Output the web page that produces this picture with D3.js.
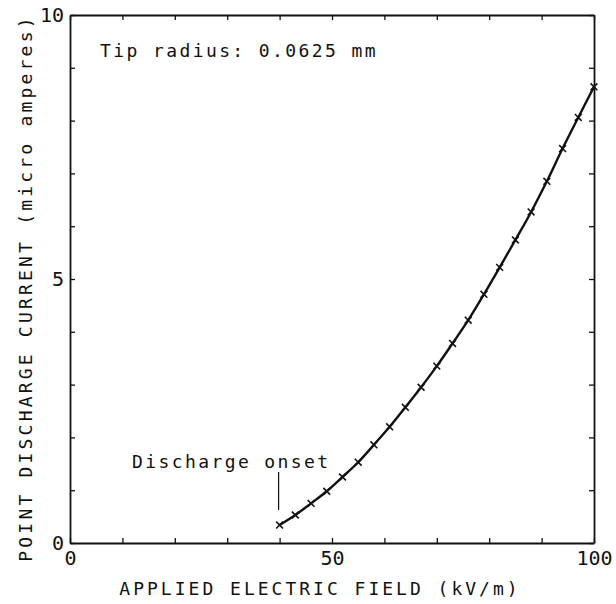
<!DOCTYPE html>
<html>
<head>
<meta charset="utf-8">
<script src="https://cdn.jsdelivr.net/npm/d3@7"></script>
<style>
  html, body { margin: 0; padding: 0; background: #fff; }
  svg { display: block; }
  text { font-family: "DejaVu Sans Mono", "Liberation Mono", monospace; fill: #111; }
</style>
</head>
<body>
<svg id="chart" width="616" height="604"></svg>
<script>
// Data
const fieldKVm = [40, 43, 46, 49, 52, 55, 58, 61, 64, 67, 70, 73, 76, 79, 82, 85, 88, 91, 94, 97, 100];
const currentMicroA = [0.34, 0.53, 0.75, 0.98, 1.25, 1.53, 1.86, 2.20, 2.57, 2.95, 3.35, 3.78, 4.22, 4.71, 5.22, 5.74, 6.27, 6.85, 7.47, 8.06, 8.64];
const xTicks = [0, 10, 20, 30, 40, 50, 60, 70, 80, 90, 100];
const xTickLabels = [0, 50, 100];
const yTicks = [0, 1, 2, 3, 4, 5, 6, 7, 8, 9, 10];
const yTickLabels = [0, 5, 10];
const xTitle = "APPLIED ELECTRIC FIELD (kV/m)";
const yTitle = "POINT DISCHARGE CURRENT (micro amperes)";
const annotation = "Tip radius: 0.0625 mm";
const onsetLabel = "Discharge onset";

const svg = d3.select("#chart");
const x = d3.scaleLinear().domain([0, 100]).range([70, 594]);
const y = d3.scaleLinear().domain([0, 10]).range([543, 15]);

const ink = "#111";

const fmtX = d => xTickLabels.includes(d) ? d : "";
const fmtY = d => yTickLabels.includes(d) ? d : "";

const gB = svg.append("g").attr("transform", `translate(0,${y(0)})`)
  .call(d3.axisBottom(x).tickValues(xTicks).tickSizeInner(-5).tickSizeOuter(0).tickPadding(8).tickFormat(fmtX));
const gT = svg.append("g").attr("transform", `translate(0,${y(10)})`)
  .call(d3.axisTop(x).tickValues(xTicks).tickSizeInner(-5).tickSizeOuter(0).tickFormat(""));
const gL = svg.append("g").attr("transform", `translate(${x(0)},0)`)
  .call(d3.axisLeft(y).tickValues(yTicks).tickSizeInner(-5).tickSizeOuter(0).tickPadding(6).tickFormat(fmtY));
const gR = svg.append("g").attr("transform", `translate(${x(100)},0)`)
  .call(d3.axisRight(y).tickValues(yTicks).tickSizeInner(-5).tickSizeOuter(0).tickFormat(""));

[gB, gT, gL, gR].forEach(g => {
  g.select(".domain").attr("stroke", ink).attr("stroke-width", 1.8);
  g.selectAll(".tick line").attr("stroke", ink).attr("stroke-width", 1.3);
  g.selectAll(".tick text")
    .style("font-family", "'DejaVu Sans Mono', monospace")
    .style("font-size", "20px")
    .attr("fill", ink);
});
gL.selectAll(".tick text").attr("dy", "0.32em");

// Curve
const pts = fieldKVm.map((v, i) => [v, currentMicroA[i]]);
svg.append("path")
  .datum(pts)
  .attr("fill", "none")
  .attr("stroke", ink)
  .attr("stroke-width", 2.4)
  .attr("d", d3.line().x(d => x(d[0])).y(d => y(d[1])).curve(d3.curveCatmullRom));

svg.append("g").selectAll("path")
  .data(pts)
  .join("path")
  .attr("transform", d => `translate(${x(d[0])},${y(d[1])})`)
  .attr("d", d3.symbol(d3.symbolX, 32))
  .attr("fill", "none")
  .attr("stroke", ink)
  .attr("stroke-width", 1.6);

// Onset marker line
svg.append("line")
  .attr("x1", x(fieldKVm[0]) - 1).attr("x2", x(fieldKVm[0]) - 1)
  .attr("y1", 472).attr("y2", 510)
  .attr("stroke", ink).attr("stroke-width", 1.2);

// Texts
svg.append("text")
  .attr("x", 132).attr("y", 468)
  .style("font-size", "18px").style("letter-spacing", "2.4px")
  .text(onsetLabel);

svg.append("text")
  .attr("x", 100).attr("y", 57)
  .style("font-size", "18px").style("letter-spacing", "2.4px")
  .text(annotation);

svg.append("text")
  .attr("x", 320).attr("y", 595)
  .attr("text-anchor", "middle")
  .style("font-size", "18px").style("letter-spacing", "3px")
  .text(xTitle);

svg.append("text")
  .attr("transform", "translate(32,288) rotate(-90)")
  .attr("text-anchor", "middle")
  .style("font-size", "18px").style("letter-spacing", "3.2px")
  .text(yTitle);
</script>
</body>
</html>
